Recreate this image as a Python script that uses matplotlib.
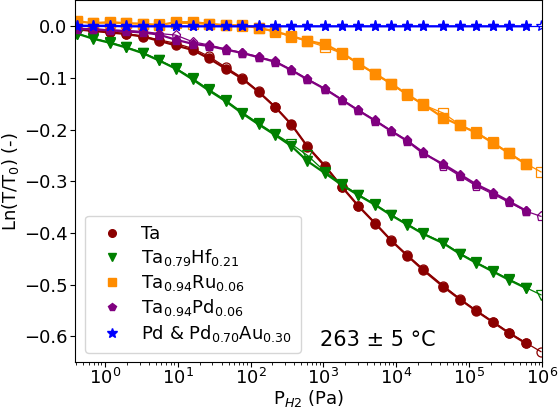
import matplotlib
matplotlib.use("Agg")
import matplotlib.pyplot as plt
from matplotlib.lines import Line2D

# pressure grid (Pa), shared by all samples
p_h2 = [0.413, 0.685, 1.17, 1.94, 3.32, 5.49, 9.39, 16.1, 26.6, 45.5, 77.6, 129, 220,
        364, 604, 1065, 1820, 3017, 5155, 8541, 14150, 23440, 44060, 75340, 124700,
        213300, 353200, 603900, 968300]

# filled = first run, open = second run
ta = [-0.006, -0.009, -0.012, -0.015, -0.020, -0.028, -0.037, -0.046, -0.062, -0.082,
      -0.102, -0.127, -0.157, -0.190, -0.233, -0.272, -0.312, -0.348, -0.382, -0.415,
      -0.444, -0.472, -0.504, -0.529, -0.551, -0.573, -0.594, -0.614]
ta_open = [-0.006, -0.008, -0.011, -0.014, -0.019, -0.026, -0.033, -0.043, -0.058, -0.079,
           -0.100, -0.126, -0.156, -0.191, -0.232, -0.270, -0.311, -0.347, -0.381, -0.414,
           -0.443, -0.470, -0.502, -0.528, -0.550, -0.572, -0.593, -0.613, -0.630]
hf = [-0.014, -0.024, -0.032, -0.041, -0.052, -0.066, -0.082, -0.103, -0.124, -0.145,
      -0.169, -0.190, -0.211, -0.232, -0.261, -0.285, -0.308, -0.327, -0.346, -0.366,
      -0.384, -0.402, -0.420, -0.441, -0.458, -0.475, -0.491, -0.507]
hf_open = [-0.014, -0.023, -0.031, -0.040, -0.051, -0.065, -0.081, -0.101, -0.122, -0.143,
           -0.167, -0.188, -0.209, -0.228, -0.250, -0.282, -0.306, -0.326, -0.345, -0.365,
           -0.383, -0.401, -0.419, -0.440, -0.457, -0.474, -0.490, -0.506, -0.520]
ru = [0.010, 0.006, 0.008, 0.006, 0.005, 0.002, 0.008, 0.008, 0.005, 0.002,
      0.002, -0.003, -0.010, -0.019, -0.028, -0.035, -0.052, -0.072, -0.092, -0.111,
      -0.132, -0.151, -0.177, -0.192, -0.206, -0.226, -0.246, -0.267]
ru_open = [0.008, 0.007, 0.006, 0.006, 0.004, 0.004, 0.006, 0.005, 0.004, 0.003,
           0.001, -0.004, -0.011, -0.020, -0.029, -0.040, -0.053, -0.073, -0.093, -0.112,
           -0.133, -0.152, -0.168, -0.191, -0.205, -0.225, -0.245, -0.266, -0.282]
pd_ = [-0.005, -0.006, -0.008, -0.010, -0.012, -0.016, -0.026, -0.034, -0.038, -0.045,
       -0.052, -0.060, -0.069, -0.085, -0.103, -0.122, -0.143, -0.163, -0.183, -0.203,
       -0.222, -0.246, -0.267, -0.287, -0.306, -0.322, -0.339, -0.357]
pd_open = [-0.004, -0.005, -0.007, -0.008, -0.010, -0.014, -0.017, -0.030, -0.036, -0.044,
           -0.051, -0.059, -0.068, -0.084, -0.102, -0.121, -0.142, -0.162, -0.182, -0.202,
           -0.221, -0.243, -0.270, -0.290, -0.309, -0.325, -0.341, -0.358, -0.368]
pdau = [0.001, 0.001, 0.001, 0.0, 0.0, 0.0, 0.0, 0.0, 0.0, 0.0,
        0.0, 0.0, 0.0, 0.0, 0.0, 0.0, 0.0, 0.0, 0.0, 0.0,
        0.0, 0.0, 0.0, 0.0, 0.0, 0.0, 0.0, 0.0]
pdau_open = [0.0, 0.0, 0.0, 0.0, 0.0, 0.0, 0.0, 0.0, 0.0, 0.0,
             0.0, 0.0, 0.0, 0.0, 0.0, 0.0, 0.0, 0.0, 0.0, 0.0,
             0.0, 0.0, 0.0, 0.0, 0.0, 0.0, 0.0, 0.0, 0.0]

labels = ["Ta", "Ta$_{0.79}$Hf$_{0.21}$", "Ta$_{0.94}$Ru$_{0.06}$",
          "Ta$_{0.94}$Pd$_{0.06}$", "Pd & Pd$_{0.70}$Au$_{0.30}$"]
colors = ["darkred", "green", "darkorange", "purple", "blue"]
markers = ["o", "v", "s", "p", "*"]
filled = [ta, hf, ru, pd_, pdau]
opened = [ta_open, hf_open, ru_open, pd_open, pdau_open]

plt.rcParams["font.size"] = 13
fig = plt.figure(figsize=(5.58, 4.09), dpi=100)
ax = fig.add_axes([0.1344, 0.1149, 0.8369, 0.884])

handles = []
for y1, y2, c, m, lab in zip(filled, opened, colors, markers, labels):
    ms = 8 if m == "*" else 6.5
    ax.plot(p_h2[:len(y2)], y2, color=c, marker=m, mfc="none", ms=ms, lw=0.9, mew=0.9)
    ax.plot(p_h2[:len(y1)], y1, color=c, marker=m, ms=ms, lw=1.6)
    handles.append(Line2D([], [], color=c, marker=m, ls="", ms=5.5 if m != "*" else 7, label=lab))

ax.set_xscale("log")
ax.set_xlim(0.39, 1e6)
ax.set_ylim(-0.65, 0.05)
ax.set_xticks([1, 10, 100, 1e3, 1e4, 1e5, 1e6])
ax.tick_params(axis="y", which="major", pad=2)
ax.tick_params(axis="x", which="major", pad=0.5)
ax.set_xlabel("P$_{H2}$ (Pa)", labelpad=0)
ax.set_ylabel("Ln(T/T$_0$) (-)", labelpad=2)
ax.legend(handles=handles, loc="lower left", fontsize=13, labelspacing=0.25,
          handletextpad=0.6, borderpad=0.5, borderaxespad=0.3,
          bbox_to_anchor=(0.01, 0.01))
ax.text(0.649, 0.062, "263 ± 5 °C", transform=ax.transAxes, ha="center", va="center",
        fontsize=15)

fig.savefig("out.png", dpi=100)
